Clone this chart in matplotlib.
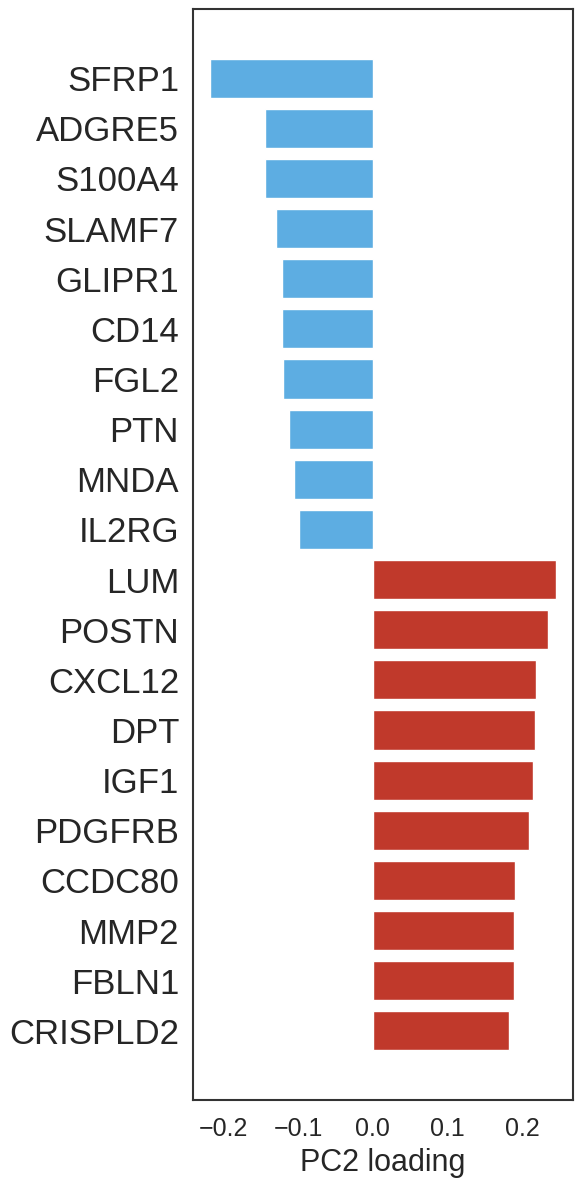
import matplotlib
matplotlib.use("Agg")
import matplotlib.pyplot as plt
import seaborn as sns

genes = ["SFRP1", "ADGRE5", "S100A4", "SLAMF7", "GLIPR1", "CD14", "FGL2", "PTN", "MNDA", "IL2RG",
         "LUM", "POSTN", "CXCL12", "DPT", "IGF1", "PDGFRB", "CCDC80", "MMP2", "FBLN1", "CRISPLD2"]
loadings = [-0.218, -0.145, -0.145, -0.130, -0.122, -0.122, -0.121, -0.113, -0.106, -0.099,
            0.245, 0.234, 0.218, 0.217, 0.214, 0.209, 0.191, 0.189, 0.189, 0.182]
xticks = [-0.2, -0.1, 0.0, 0.1, 0.2]

sns.set_style("white")
plt.rcParams['font.family'] = ['Liberation Sans', 'DejaVu Sans']
plt.rcParams['axes.unicode_minus'] = True

fig = plt.figure(figsize=(5.84, 11.84), dpi=100)
ax = fig.add_axes([193/584, 1 - 1100/1184, 380/584, 1091/1184])

colors = ["#5DADE2" if v < 0 else "#C0392B" for v in loadings]
ypos = list(range(len(genes)))
ax.barh(ypos, loadings, height=0.78, color=colors)
ax.invert_yaxis()
ax.set_yticks(ypos)
ax.set_yticklabels(genes, fontsize=25, color="#262626")
ax.set_xticks(xticks)
ax.set_xticklabels([f"{t:.1f}".replace("-", "\u2212") for t in xticks], fontsize=18, color="#262626")
ax.set_xlabel("PC2 loading", fontsize=22, color="#262626", labelpad=5)
ax.tick_params(axis='y', length=0, pad=10)
ax.tick_params(axis='x', length=0, pad=12)
for s in ax.spines.values():
    s.set_color("#333333")
    s.set_linewidth(1.5)

fig.savefig("out.png", dpi=100)
